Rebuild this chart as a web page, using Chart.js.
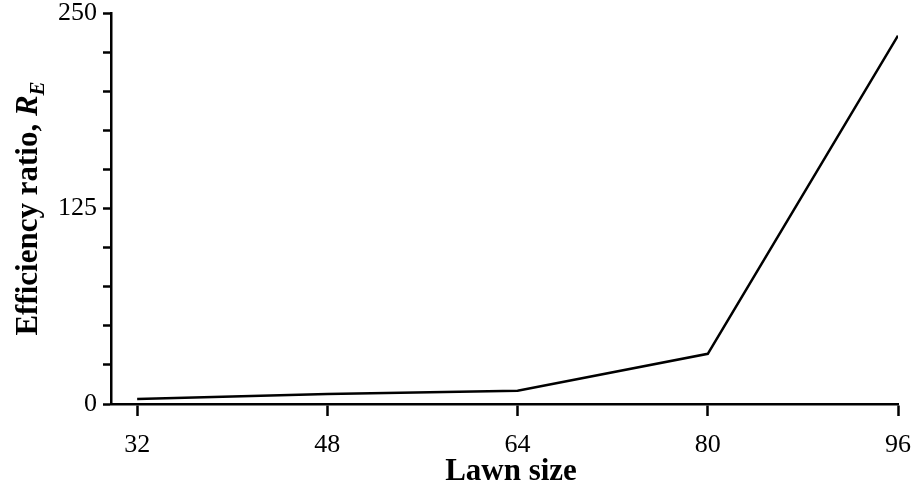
<!DOCTYPE html>
<html>
<head>
<meta charset="utf-8">
<script src="https://cdn.jsdelivr.net/npm/chart.js@4"></script>
<style>
  html, body { margin: 0; padding: 0; background: #fff; }
  #wrap { width: 915px; height: 486px; }
</style>
</head>
<body>
<div id="wrap"><canvas id="lawnChart"></canvas></div>
<script>
// Values
const lawnSizes = [32, 48, 64, 80, 96];
const efficiencyRatio = [3.2, 6.4, 8.5, 32.1, 235.5];
const xTickValues = [32, 48, 64, 80, 96];
const yLabelValues = [0, 125, 250];

const serif = "'Liberation Serif', 'Times New Roman', serif";

// Axis titles drawn by hand (the y title needs an italic subscript)
const axisTitles = {
    id: "axisTitles",
    afterDraw(chart) {
        const ctx = chart.ctx;
        const area = chart.chartArea;
        ctx.save();
        ctx.fillStyle = "#000";
        ctx.textBaseline = "alphabetic";

        // x title
        ctx.font = "bold 31px " + serif;
        ctx.textAlign = "center";
        ctx.fillText("Lawn size", 511, 480);

        // y title, rotated
        const parts = [
            { text: "Efficiency ratio, ", font: "bold 31px " + serif, dy: 0 },
            { text: "R", font: "italic bold 31px " + serif, dy: 0 },
            { text: "E", font: "italic bold 21px " + serif, dy: 7 }
        ];
        let total = 0;
        parts.forEach(p => { ctx.font = p.font; p.w = ctx.measureText(p.text).width; total += p.w; });
        ctx.translate(37, (area.top + area.bottom) / 2);
        ctx.rotate(-Math.PI / 2);
        ctx.textAlign = "left";
        let x = -total / 2;
        parts.forEach(p => {
            ctx.font = p.font;
            ctx.fillText(p.text, x, p.dy);
            x += p.w;
        });
        ctx.restore();
    }
};

new Chart(document.getElementById("lawnChart"), {
    type: "line",
    data: {
        datasets: [{
            label: "Efficiency ratio",
            data: lawnSizes.map((v, i) => ({ x: v, y: efficiencyRatio[i] })),
            borderColor: "#000",
            borderWidth: 2.5,
            pointRadius: 0,
            tension: 0,
            fill: false
        }]
    },
    options: {
        responsive: true,
        maintainAspectRatio: false,
        animation: false,
        layout: { padding: { top: 13, right: 17, left: 0, bottom: 0 } },
        plugins: {
            legend: { display: false },
            tooltip: { enabled: false }
        },
        scales: {
            x: {
                type: "linear",
                min: 29.8,
                max: 96,
                afterBuildTicks: scale => { scale.ticks = xTickValues.map(v => ({ value: v })); },
                afterFit: scale => { scale.height = 82; scale.paddingLeft = 0; scale.paddingRight = 0; },
                border: { display: true, color: "#000", width: 2.5 },
                grid: { drawOnChartArea: false, drawTicks: true, tickLength: 12, tickWidth: 2.5, tickColor: "#000" },
                ticks: {
                    color: "#000",
                    font: { family: serif, size: 26 },
                    padding: 14,
                    maxRotation: 0,
                    autoSkip: false
                }
            },
            y: {
                min: 0,
                max: 250,
                afterFit: scale => { scale.width = 111; scale.paddingTop = 0; scale.paddingBottom = 0; },
                border: { display: true, color: "#000", width: 2.5 },
                grid: { drawOnChartArea: false, drawTicks: true, tickLength: 8, tickWidth: 2.5, tickColor: "#000" },
                ticks: {
                    stepSize: 25,
                    color: "#000",
                    font: { family: serif, size: 26 },
                    padding: 6,
                    autoSkip: false,
                    callback: v => yLabelValues.includes(v) ? String(v) : ""
                }
            }
        }
    },
    plugins: [axisTitles]
});
</script>
</body>
</html>
